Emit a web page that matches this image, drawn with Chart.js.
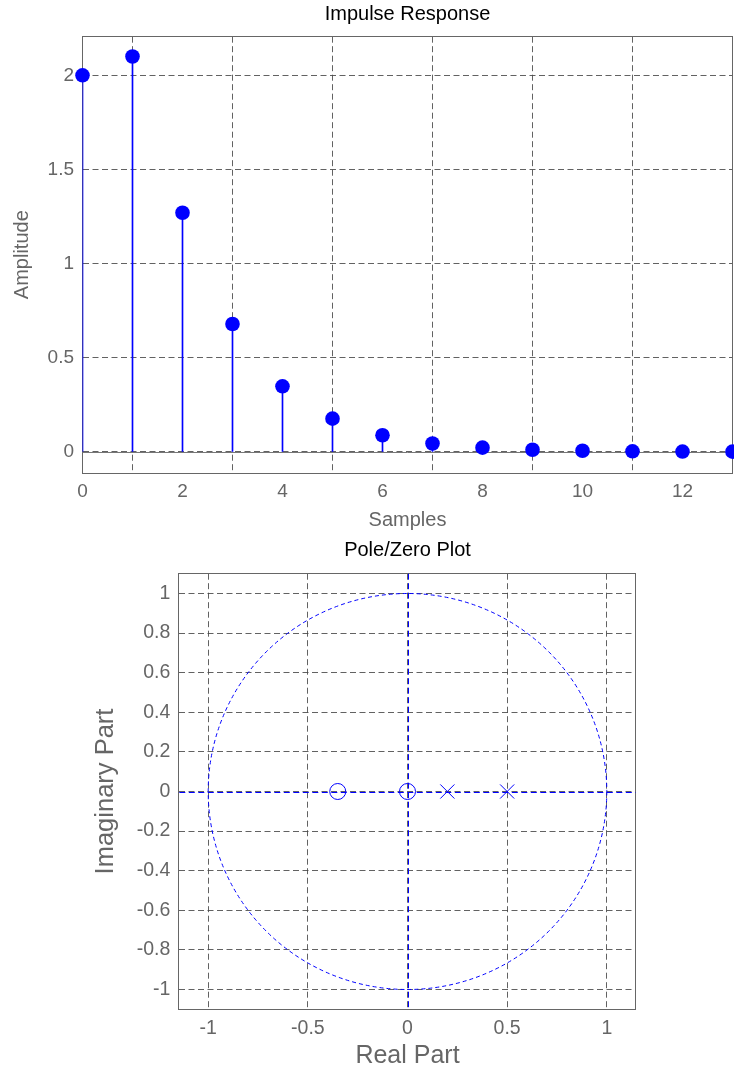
<!DOCTYPE html>
<html>
<head>
<meta charset="utf-8">
<script src="https://cdn.jsdelivr.net/npm/chart.js@4.4.1/dist/chart.umd.min.js"></script>
<style>
  body { margin: 0; background: #fff; }
  .top-box { position: absolute; left: 0; top: 0; width: 734px; height: 540px; }
  .bottom-box { position: absolute; left: 0; top: 536px; width: 734px; height: 538px; }
</style>
</head>
<body>
<div class="top-box"><canvas class="impulse-canvas"></canvas></div>
<div class="bottom-box"><canvas class="pz-canvas"></canvas></div>
<script>
// impulse response samples
const samples = [0, 1, 2, 3, 4, 5, 6, 7, 8, 9, 10, 11, 12, 13];
const amplitude = [2, 2.1, 1.27, 0.679, 0.348, 0.176, 0.088, 0.044, 0.022, 0.011, 0.0055, 0.0027, 0.0014, 0.0007];
const sampleTicks = [0, 2, 4, 6, 8, 10, 12];
const sampleTickLabels = ["0", "2", "4", "6", "8", "10", "12"];
const ampTicks = [0, 0.5, 1, 1.5, 2];
const ampTickLabels = ["0", "0.5", "1", "1.5", "2"];

// pole / zero locations
const zerosRe = [-0.35, 0];
const zerosIm = [0, 0];
const polesRe = [0.2, 0.5];
const polesIm = [0, 0];
const reTicks = [-1, -0.5, 0, 0.5, 1];
const reTickLabels = ["-1", "-0.5", "0", "0.5", "1"];
const imTicks = [-1, -0.8, -0.6, -0.4, -0.2, 0, 0.2, 0.4, 0.6, 0.8, 1];
const imTickLabels = ["-1", "-0.8", "-0.6", "-0.4", "-0.2", "0", "0.2", "0.4", "0.6", "0.8", "1"];

const FONT = "'Liberation Sans', Arial, Helvetica, sans-serif";
const GREY = "#666666";
const GRID = "rgba(70,70,70,0.85)";
const BLUE = "#0000ff";

Chart.defaults.font.family = FONT;
Chart.defaults.animation = false;

function setTicks(values) {
  return (scale) => {
    scale.ticks = values.map((v) => ({ value: v }));
  };
}

// empty top axis, only used to centre the title over the plot area
function titleAxis(text, height) {
  return {
    type: "linear",
    axis: "x",
    position: "top",
    afterFit: (s) => { s.height = height; },
    grid: { display: false, drawTicks: false },
    border: { display: false },
    ticks: { display: false },
    title: {
      display: true,
      text: text,
      color: "#000",
      font: { size: 20 },
      padding: { top: 2, bottom: 0 },
    },
  };
}

// box round the plot area (MATLAB style)
const boxPlugin = {
  id: "box",
  beforeDatasetsDraw(chart) {
    const { ctx, chartArea: a } = chart;
    const l = Math.round(a.left) - 0.5;
    const t = Math.round(a.top) - 0.5;
    const r = Math.round(a.right) - 0.5;
    const b = Math.round(a.bottom) + 0.5;
    ctx.save();
    ctx.strokeStyle = GREY;
    ctx.lineWidth = 1;
    ctx.strokeRect(l, t, r - l, b - t);
    ctx.restore();
  },
};

// solid stem baseline at y = 0
const baselinePlugin = {
  id: "baseline",
  beforeDatasetsDraw(chart) {
    const { ctx, chartArea: a, scales } = chart;
    const y0 = Math.round(scales.y.getPixelForValue(0)) + 0.5;
    ctx.save();
    ctx.strokeStyle = "#777777";
    ctx.lineWidth = 1;
    ctx.beginPath();
    ctx.moveTo(a.left, y0);
    ctx.lineTo(a.right, y0);
    ctx.stroke();
    ctx.restore();
  },
};

// unit circle and dashed axes for the z-plane
const zplanePlugin = {
  id: "zplane",
  beforeDatasetsDraw(chart) {
    const { ctx, chartArea: a, scales } = chart;
    const cx = scales.x.getPixelForValue(0);
    const cy = scales.y.getPixelForValue(0);
    const rx = scales.x.getPixelForValue(1) - cx;
    const ry = cy - scales.y.getPixelForValue(1);
    ctx.save();
    ctx.strokeStyle = BLUE;
    ctx.lineWidth = 1;
    ctx.setLineDash([4, 3]);
    ctx.beginPath();
    ctx.ellipse(cx, cy, rx, ry, 0, 0, Math.PI * 2);
    ctx.stroke();
    ctx.setLineDash([6, 3.5]);
    ctx.beginPath();
    ctx.moveTo(Math.round(cx) + 0.5, a.top);
    ctx.lineTo(Math.round(cx) + 0.5, a.bottom);
    ctx.moveTo(a.left, Math.round(cy) + 0.5);
    ctx.lineTo(a.right, Math.round(cy) + 0.5);
    ctx.stroke();
    ctx.restore();
  },
};

//IMPULSE RESPONSE
const ctx1 = document.querySelector(".impulse-canvas").getContext("2d");
const points = samples.map((s, i) => ({ x: s, y: amplitude[i] }));

new Chart(ctx1, {
  type: "bar",
  data: {
    datasets: [
      {
        type: "bar",
        data: points,
        xAxisID: "x",
        yAxisID: "y",
        backgroundColor: BLUE,
        barThickness: 1,
        order: 2,
      },
      {
        type: "scatter",
        data: points,
        xAxisID: "x",
        yAxisID: "y",
        backgroundColor: BLUE,
        borderWidth: 0,
        pointRadius: 7.3,
        clip: false,
        order: 1,
      },
    ],
  },
  options: {
    maintainAspectRatio: false,
    responsive: true,
    events: [],
    layout: { autoPadding: false, padding: { left: 0, right: 1.5, top: 0, bottom: 0 } },
    plugins: {
      legend: { display: false },
      tooltip: { enabled: false },
    },
    scales: {
      x: {
        type: "linear",
        offset: false,
        min: 0,
        max: 13,
        afterBuildTicks: setTicks(sampleTicks),
        afterFit: (s) => { s.height = 67.3; },
        grid: { color: GRID, drawTicks: false },
        border: { display: false, dash: [6, 3.5] },
        ticks: {
          color: GREY,
          font: { size: 19 },
          padding: 8,
          autoSkip: false,
          maxRotation: 0,
          callback: (v, i) => sampleTickLabels[i],
        },
        title: {
          display: true,
          text: "Samples",
          color: GREY,
          font: { size: 20 },
          padding: { top: 0, bottom: 8 },
        },
      },
      y: {
        min: -0.111,
        max: 2.205,
        afterBuildTicks: setTicks(ampTicks),
        afterFit: (s) => { s.width = 82.5; },
        grid: { color: GRID, drawTicks: false },
        border: { display: false, dash: [6, 3.5] },
        ticks: {
          color: GREY,
          font: { size: 19 },
          padding: 8.5,
          callback: (v, i) => ampTickLabels[i],
        },
        title: {
          display: true,
          text: "Amplitude",
          color: GREY,
          font: { size: 20 },
          padding: { top: 10, bottom: 0 },
        },
      },
      top: titleAxis("Impulse Response", 36.7),
    },
  },
  plugins: [boxPlugin, baselinePlugin],
});

//POLE/ZERO PLOT
const ctx2 = document.querySelector(".pz-canvas").getContext("2d");

new Chart(ctx2, {
  type: "scatter",
  data: {
    datasets: [
      {
        label: "Zeros",
        data: zerosRe.map((re, i) => ({ x: re, y: zerosIm[i] })),
        xAxisID: "x",
        yAxisID: "y",
        pointStyle: "circle",
        pointRadius: 8,
        backgroundColor: "rgba(0,0,0,0)",
        borderColor: BLUE,
        borderWidth: 1,
      },
      {
        label: "Poles",
        data: polesRe.map((re, i) => ({ x: re, y: polesIm[i] })),
        xAxisID: "x",
        yAxisID: "y",
        pointStyle: "crossRot",
        pointRadius: 10,
        borderColor: BLUE,
        borderWidth: 1,
      },
    ],
  },
  options: {
    maintainAspectRatio: false,
    responsive: true,
    events: [],
    layout: { autoPadding: false, padding: { left: 0, right: 98.3, top: 0, bottom: 0 } },
    plugins: {
      legend: { display: false },
      tooltip: { enabled: false },
    },
    scales: {
      x: {
        type: "linear",
        min: -1.145,
        max: 1.145,
        afterBuildTicks: setTicks(reTicks),
        afterFit: (s) => { s.height = 64.7; },
        grid: { color: GRID, drawTicks: false },
        border: { display: false, dash: [6, 3.5] },
        ticks: {
          color: GREY,
          font: { size: 19.5 },
          padding: 8,
          autoSkip: false,
          maxRotation: 0,
          callback: (v, i) => reTickLabels[i],
        },
        title: {
          display: true,
          text: "Real Part",
          color: GREY,
          font: { size: 25 },
          padding: { top: 0, bottom: 3 },
        },
      },
      y: {
        min: -1.1,
        max: 1.1,
        afterBuildTicks: setTicks(imTicks),
        afterFit: (s) => { s.width = 179.3; },
        grid: { color: GRID, drawTicks: false },
        border: { display: false, dash: [6, 3.5] },
        ticks: {
          color: GREY,
          font: { size: 19.5 },
          padding: 9,
          autoSkip: false,
          callback: (v, i) => imTickLabels[i],
        },
        title: {
          display: true,
          text: "Imaginary Part",
          color: GREY,
          font: { size: 25.5 },
          padding: { top: 91, bottom: 0 },
        },
      },
      top: titleAxis("Pole/Zero Plot", 37.7),
    },
  },
  plugins: [boxPlugin, zplanePlugin],
});
</script>
</body>
</html>
